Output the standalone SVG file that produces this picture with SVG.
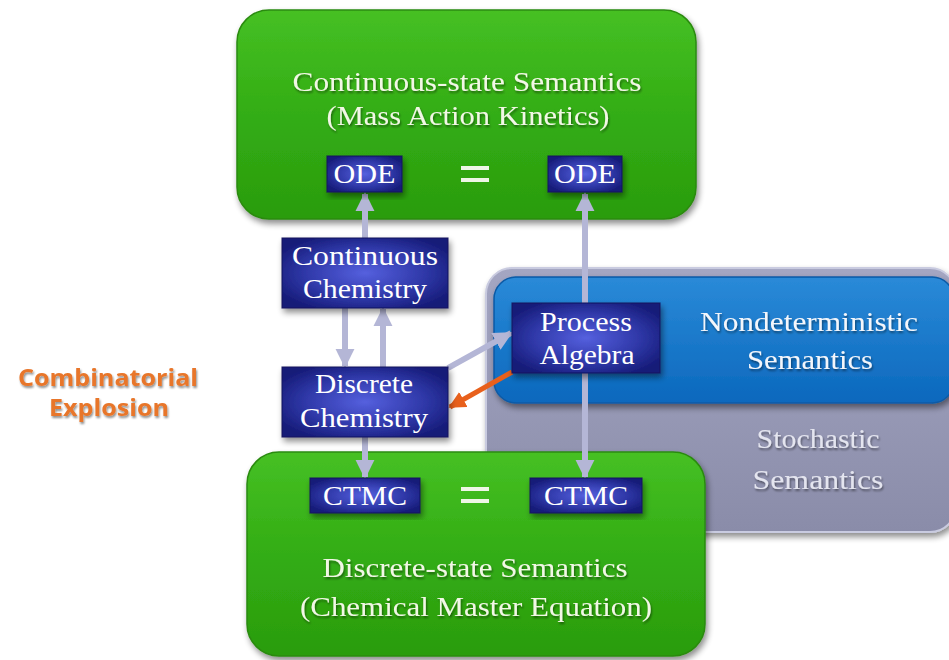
<svg xmlns="http://www.w3.org/2000/svg" width="949" height="660" viewBox="0 0 949 660">
  <defs>
    <linearGradient id="gGreen" x1="0" y1="0" x2="0" y2="1">
      <stop offset="0" stop-color="#46c024"/>
      <stop offset="0.5" stop-color="#33ad14"/>
      <stop offset="1" stop-color="#2a9c0e"/>
    </linearGradient>
    <linearGradient id="gBlue" x1="0" y1="0" x2="0" y2="1">
      <stop offset="0" stop-color="#2a8ad8"/>
      <stop offset="1" stop-color="#0b68bd"/>
    </linearGradient>
    <linearGradient id="gGray" x1="0" y1="0" x2="0" y2="1">
      <stop offset="0" stop-color="#a4a6c2"/>
      <stop offset="1" stop-color="#8a8ca9"/>
    </linearGradient>
    <radialGradient id="gNode" cx="0.5" cy="0.5" r="0.6">
      <stop offset="0" stop-color="#5560de"/>
      <stop offset="0.6" stop-color="#2f38a8"/>
      <stop offset="1" stop-color="#161b78"/>
    </radialGradient>
    <filter id="shadow" x="-10%" y="-10%" width="120%" height="130%">
      <feGaussianBlur in="SourceAlpha" stdDeviation="3"/>
      <feOffset dx="2" dy="4"/>
      <feComponentTransfer><feFuncA type="linear" slope="0.45"/></feComponentTransfer>
      <feMerge><feMergeNode/><feMergeNode in="SourceGraphic"/></feMerge>
    </filter>
    <filter id="tshadow" x="-10%" y="-20%" width="120%" height="150%">
      <feGaussianBlur in="SourceAlpha" stdDeviation="1"/>
      <feOffset dx="1" dy="2"/>
      <feComponentTransfer><feFuncA type="linear" slope="0.45"/></feComponentTransfer>
      <feMerge><feMergeNode/><feMergeNode in="SourceGraphic"/></feMerge>
    </filter>
    <marker id="ah" viewBox="0 0 10 10" refX="9" refY="5" markerWidth="3.2" markerHeight="3.2" orient="auto" markerUnits="strokeWidth">
      <path d="M0,0 L10,5 L0,10 z" fill="#b4b6d6"/>
    </marker>
    <marker id="ahOrange" viewBox="0 0 10 10" refX="9" refY="5" markerWidth="3.4" markerHeight="3.4" orient="auto" markerUnits="strokeWidth">
      <path d="M0,0 L10,5 L0,10 z" fill="#e8601c"/>
    </marker>
    <style>
      .serif { font-family: "Liberation Serif", "DejaVu Serif", serif; }
      .big { font-size: 28px; fill: #f2f7e6; text-anchor: middle; }
      .node { fill: url(#gNode); stroke: #12165e; stroke-width: 1; }
      .ntext { font-size: 27px; fill: #ffffff; text-anchor: middle; }
      .stext { font-size: 27px; text-anchor: middle; }
      .side { font-family: "Open Sans", "Liberation Sans", sans-serif; font-weight: bold; font-size: 24px; fill: #e8762a; text-anchor: middle; }
      .conn { stroke: #b4b6d6; stroke-width: 6; fill: none; marker-end: url(#ah); }
      .eq { stroke: #eef6e6; stroke-width: 4; }
    </style>
  </defs>

  <rect width="949" height="660" fill="#ffffff"/>

  <!-- Stochastic semantics panel -->
  <g id="stochastic">
    <rect x="486" y="268" width="470" height="264" rx="26" fill="url(#gGray)" stroke="#c9cbe0" stroke-width="2" filter="url(#shadow)"/>
    <text class="serif stext" x="818" y="448" textLength="123" lengthAdjust="spacingAndGlyphs" fill="#e4e5ef" filter="url(#tshadow)">Stochastic</text>
    <text class="serif stext" x="818" y="489" textLength="131" lengthAdjust="spacingAndGlyphs" fill="#e4e5ef" filter="url(#tshadow)">Semantics</text>
  </g>

  <!-- Nondeterministic semantics panel -->
  <g id="nondeterministic">
    <rect x="494" y="277" width="460" height="126" rx="22" fill="url(#gBlue)" stroke="#0a5aa6" stroke-width="1.5" filter="url(#shadow)"/>
    <text class="serif stext" x="809" y="331" textLength="218" lengthAdjust="spacingAndGlyphs" fill="#f4f6fb" filter="url(#tshadow)">Nondeterministic</text>
    <text class="serif stext" x="810" y="369" textLength="126" lengthAdjust="spacingAndGlyphs" fill="#f4f6fb" filter="url(#tshadow)">Semantics</text>
  </g>

  <!-- Continuous-state semantics panel -->
  <g id="continuous-state">
    <rect x="237" y="10" width="459" height="209" rx="32" fill="url(#gGreen)" stroke="#2a8a10" stroke-width="1.5" filter="url(#shadow)"/>
    <text class="serif big" x="467" y="91" textLength="349" lengthAdjust="spacingAndGlyphs" filter="url(#tshadow)">Continuous-state Semantics</text>
    <text class="serif big" x="468" y="125" textLength="283" lengthAdjust="spacingAndGlyphs" filter="url(#tshadow)">(Mass Action Kinetics)</text>
    <line class="eq" x1="461" y1="168" x2="489" y2="168"/>
    <line class="eq" x1="461" y1="180" x2="489" y2="180"/>
  </g>

  <!-- Discrete-state semantics panel -->
  <g id="discrete-state">
    <rect x="247" y="452" width="458" height="204" rx="32" fill="url(#gGreen)" stroke="#2a8a10" stroke-width="1.5" filter="url(#shadow)"/>
    <text class="serif big" x="475" y="577" textLength="305" lengthAdjust="spacingAndGlyphs" filter="url(#tshadow)">Discrete-state Semantics</text>
    <text class="serif big" x="476" y="616" textLength="352" lengthAdjust="spacingAndGlyphs" filter="url(#tshadow)">(Chemical Master Equation)</text>
    <line class="eq" x1="461" y1="489" x2="489" y2="489"/>
    <line class="eq" x1="461" y1="501" x2="489" y2="501"/>
  </g>

  <!-- Connectors -->
  <g id="connectors">
    <line class="conn" x1="365" y1="239" x2="365" y2="194"/>
    <line class="conn" x1="585" y1="304" x2="585" y2="194"/>
    <line class="conn" x1="345" y1="308" x2="345" y2="366"/>
    <line class="conn" x1="383" y1="367" x2="383" y2="309"/>
    <line class="conn" x1="448" y1="368" x2="511" y2="333"/>
    <line class="conn" x1="365" y1="437" x2="365" y2="477"/>
    <line class="conn" x1="585" y1="373" x2="585" y2="477"/>
    <line x1="512" y1="372" x2="450" y2="407" stroke="#e8601c" stroke-width="5" marker-end="url(#ahOrange)"/>
  </g>

  <!-- Term nodes -->
  <g id="ode-left">
    <rect class="node" x="327" y="156" width="75" height="36" filter="url(#shadow)"/>
    <text class="serif ntext" x="364.5" y="183" textLength="62" lengthAdjust="spacingAndGlyphs">ODE</text>
  </g>
  <g id="ode-right">
    <rect class="node" x="548" y="156" width="74" height="36" filter="url(#shadow)"/>
    <text class="serif ntext" x="585" y="183" textLength="62" lengthAdjust="spacingAndGlyphs">ODE</text>
  </g>
  <g id="continuous-chemistry">
    <rect class="node" x="282" y="238" width="166" height="70" filter="url(#shadow)"/>
    <text class="serif ntext" x="365" y="265" textLength="146" lengthAdjust="spacingAndGlyphs">Continuous</text>
    <text class="serif ntext" x="365" y="298" textLength="124" lengthAdjust="spacingAndGlyphs">Chemistry</text>
  </g>
  <g id="discrete-chemistry">
    <rect class="node" x="282" y="367" width="166" height="70" filter="url(#shadow)"/>
    <text class="serif ntext" x="364" y="393" textLength="98" lengthAdjust="spacingAndGlyphs">Discrete</text>
    <text class="serif ntext" x="364" y="427" textLength="128" lengthAdjust="spacingAndGlyphs">Chemistry</text>
  </g>
  <g id="process-algebra">
    <rect class="node" x="512" y="303" width="148" height="70" filter="url(#shadow)"/>
    <text class="serif ntext" x="586" y="331" textLength="92" lengthAdjust="spacingAndGlyphs">Process</text>
    <text class="serif ntext" x="587" y="364" textLength="95" lengthAdjust="spacingAndGlyphs">Algebra</text>
  </g>
  <g id="ctmc-left">
    <rect class="node" x="310" y="478" width="110" height="35" filter="url(#shadow)"/>
    <text class="serif ntext" x="365" y="505" textLength="84" lengthAdjust="spacingAndGlyphs">CTMC</text>
  </g>
  <g id="ctmc-right">
    <rect class="node" x="530" y="478" width="112" height="35" filter="url(#shadow)"/>
    <text class="serif ntext" x="586" y="505" textLength="84" lengthAdjust="spacingAndGlyphs">CTMC</text>
  </g>

  <!-- Side label -->
  <g id="combinatorial-explosion">
    <text class="side" x="108" y="386" textLength="180" lengthAdjust="spacingAndGlyphs" filter="url(#tshadow)">Combinatorial</text>
    <text class="side" x="109" y="416" textLength="120" lengthAdjust="spacingAndGlyphs" filter="url(#tshadow)">Explosion</text>
  </g>
</svg>
